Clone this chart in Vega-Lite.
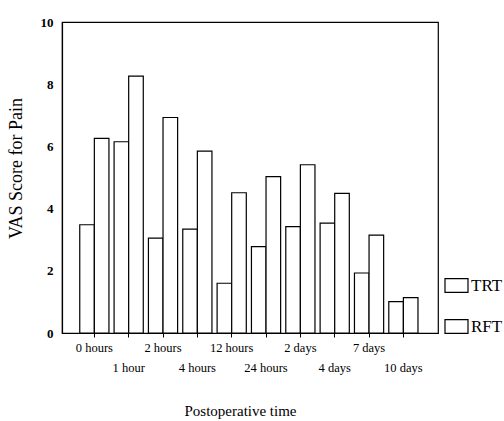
{
  "$schema": "https://vega.github.io/schema/vega-lite/v6.json",
  "autosize": "none",
  "width": 376,
  "height": 311,
  "padding": {"left": 62, "top": 22, "right": 66, "bottom": 88},
  "background": "white",
  "config": {
    "font": "Liberation Serif",
    "view": {"stroke": "black", "strokeWidth": 1.2}
  },
  "data": {
    "values": [
      {"time": "0 hours", "group": "TRT", "vas": 3.48},
      {"time": "0 hours", "group": "RFT", "vas": 6.26},
      {"time": "1 hour", "group": "TRT", "vas": 6.15},
      {"time": "1 hour", "group": "RFT", "vas": 8.26},
      {"time": "2 hours", "group": "TRT", "vas": 3.05},
      {"time": "2 hours", "group": "RFT", "vas": 6.93},
      {"time": "4 hours", "group": "TRT", "vas": 3.34},
      {"time": "4 hours", "group": "RFT", "vas": 5.85},
      {"time": "12 hours", "group": "TRT", "vas": 1.6},
      {"time": "12 hours", "group": "RFT", "vas": 4.51},
      {"time": "24 hours", "group": "TRT", "vas": 2.78},
      {"time": "24 hours", "group": "RFT", "vas": 5.03},
      {"time": "2 days", "group": "TRT", "vas": 3.42},
      {"time": "2 days", "group": "RFT", "vas": 5.41},
      {"time": "4 days", "group": "TRT", "vas": 3.53},
      {"time": "4 days", "group": "RFT", "vas": 4.49},
      {"time": "7 days", "group": "TRT", "vas": 1.93},
      {"time": "7 days", "group": "RFT", "vas": 3.15},
      {"time": "10 days", "group": "TRT", "vas": 1.01},
      {"time": "10 days", "group": "RFT", "vas": 1.14}
    ]
  },
  "mark": {"type": "bar", "stroke": "black", "strokeWidth": 1.2},
  "encoding": {
    "x": {
      "field": "time",
      "type": "nominal",
      "sort": null,
      "scale": {"paddingInner": 0.15, "paddingOuter": 0.55, "align": 0.47},
      "axis": {
        "title": "Postoperative time",
        "titleFontSize": 15,
        "titleFontWeight": "normal",
        "titleColor": "black",
        "titleX": 178,
        "titleY": 82,
        "titleAlign": "center",
        "titleBaseline": "alphabetic",
        "labelAngle": 0,
        "labelOverlap": false,
        "labelFontSize": 12.5,
        "labelColor": "black",
        "labelPadding": {"expr": "indexof(['1 hour','4 hours','24 hours','4 days','10 days'], datum.value) >= 0 ? 24 : 4"},
        "tickSize": 4,
        "tickColor": "black",
        "domainColor": "black",
        "domainWidth": 1.2
      }
    },
    "xOffset": {
      "field": "group",
      "type": "nominal",
      "scale": {"domain": ["TRT", "RFT"]}
    },
    "y": {
      "field": "vas",
      "type": "quantitative",
      "scale": {"domain": [0, 10], "nice": false},
      "axis": {
        "title": "VAS Score for Pain",
        "titleFontSize": 18,
        "titleFontWeight": "normal",
        "titleColor": "black",
        "titleX": -37,
        "titleY": 146,
        "values": [0, 2, 4, 6, 8, 10],
        "grid": false,
        "ticks": false,
        "labelFontSize": 13,
        "labelFontWeight": "bold",
        "labelColor": "black",
        "labelPadding": 9,
        "domainColor": "black",
        "domainWidth": 1.2
      }
    },
    "fill": {
      "field": "group",
      "type": "nominal",
      "scale": {"domain": ["TRT", "RFT"], "range": ["white", "white"]},
      "legend": {
        "title": null,
        "orient": "none",
        "legendX": 382,
        "legendY": 251,
        "symbolType": "M-1,-0.6H1V0.6H-1Z",
        "symbolSize": 529,
        "symbolStrokeColor": "black",
        "symbolStrokeWidth": 1.2,
        "labelFontSize": 17,
        "labelColor": "black",
        "labelOffset": 2,
        "rowPadding": 19
      }
    }
  }
}
